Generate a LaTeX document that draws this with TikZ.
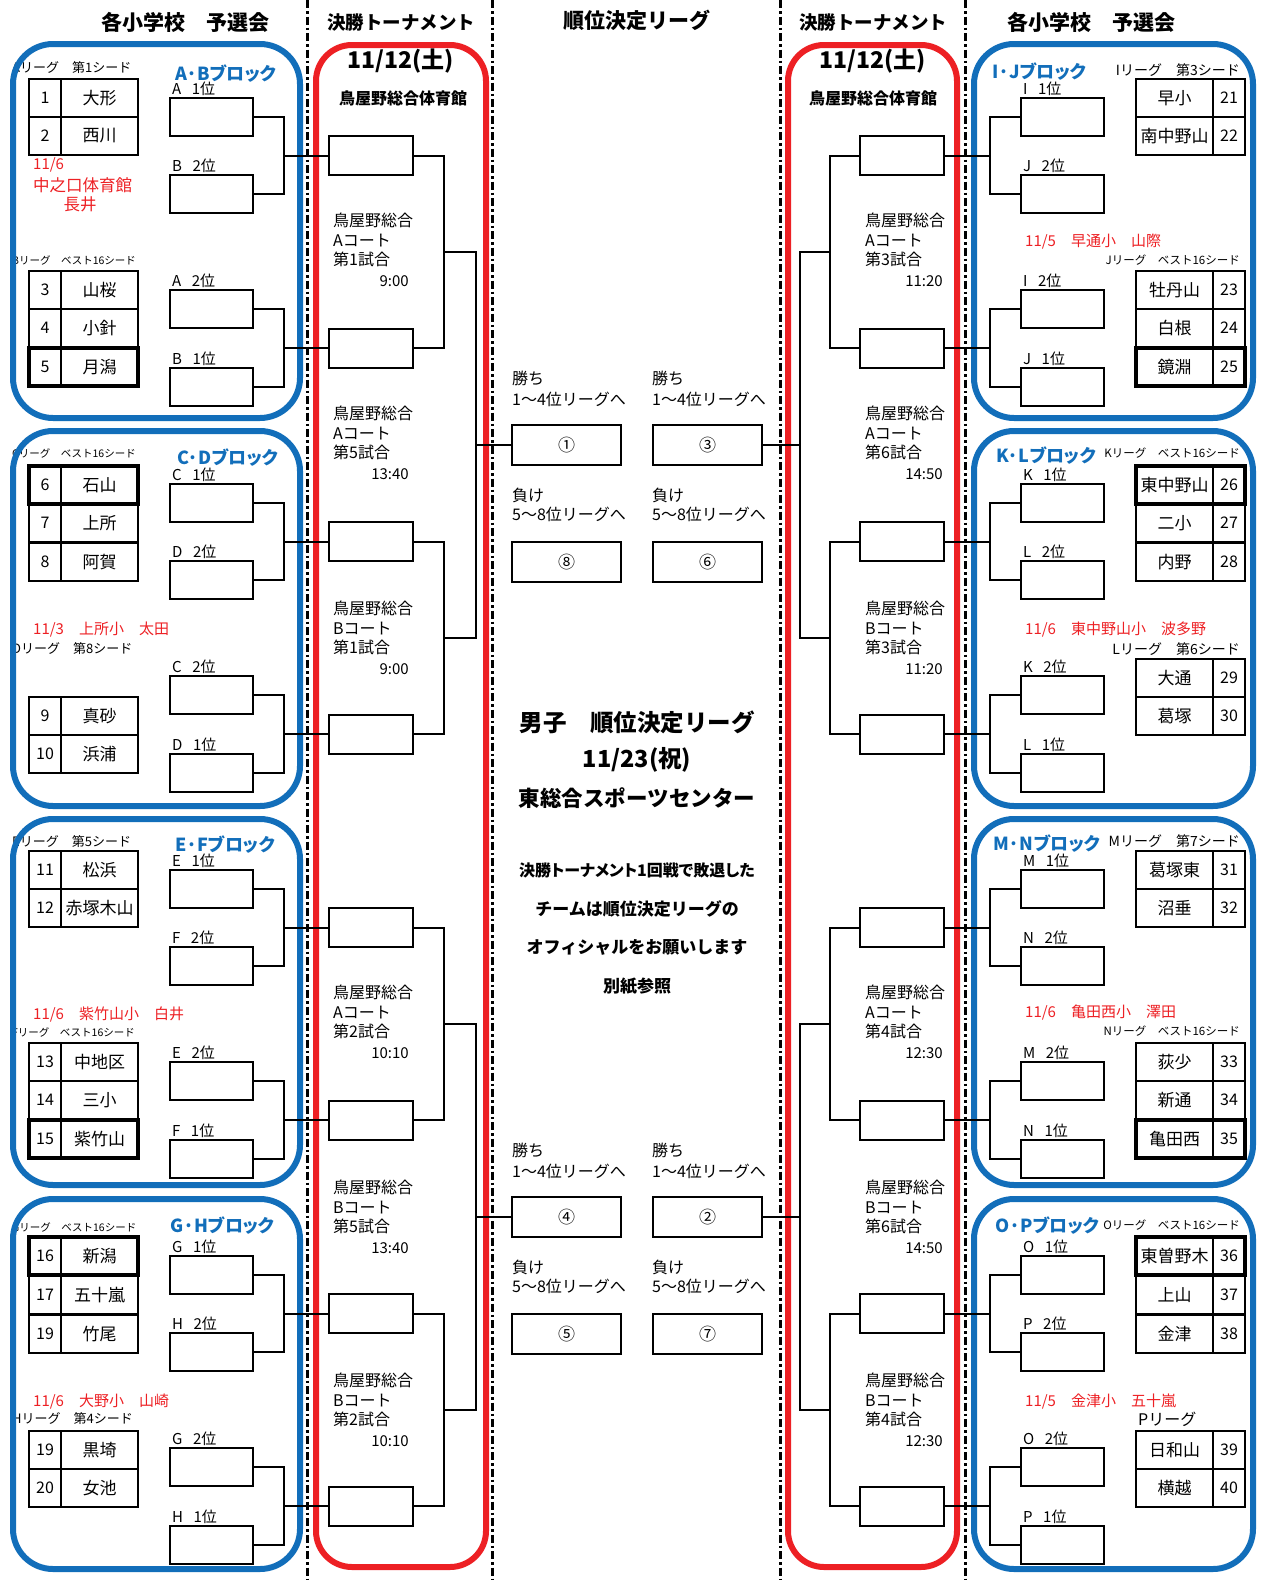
\documentclass[tikz,border=0pt]{standalone}
\usepackage{fontspec}
\setmainfont{Noto Sans CJK JP}
\usetikzlibrary{calc}
\definecolor{blkblue}{RGB}{18,110,186}
\definecolor{trnred}{RGB}{237,32,36}
\newcommand{\fsz}[1]{\fontsize{#1}{#1}\selectfont}

\begin{document}
\begin{tikzpicture}[x=1pt,y=-1pt,
  wire/.style={line width=2pt},
  vsep/.style={line width=3pt, dash pattern=on 8pt off 3pt on 2.5pt off 3pt},
  blkframe/.style={draw=blkblue, line width=6pt, rounded corners=40pt},
  trnframe/.style={draw=trnred, line width=6pt, rounded corners=36pt},
  seedbox/.style={draw, line width=2pt, minimum width=83pt, minimum height=38pt, inner sep=0pt},
  gamebox/.style={draw, line width=2pt, minimum width=84pt, minimum height=39pt, inner sep=0pt},
  rankbox/.style={draw, line width=2pt, minimum width=109pt, minimum height=40pt, inner sep=0pt, font=\fsz{17}},
  numcell/.style={draw, line width=2pt, minimum width=32pt, minimum height=38pt, inner sep=0pt, font=\fsz{16}},
  namecell/.style={draw, line width=2pt, minimum width=77pt, minimum height=38pt, inner sep=0pt, font=\fsz{17}},
  thickrow/.style={line width=4pt},
  seedlbl/.style={anchor=south west, inner sep=0pt, xshift=3pt, yshift=1pt, font=\fsz{15}},
  blocklbl/.style={anchor=west, inner sep=0pt, text=blkblue, font=\bfseries\fsz{18}\addfontfeature{RawFeature=+palt}},
  leaguelbl/.style={inner sep=0pt, font=\fsz{#1}},
  notelbl/.style={anchor=west, inner sep=0pt, text=trnred, font=\fsz{15}},
  courtlbl/.style={anchor=north west, align=left, inner sep=0pt, font=\fontsize{16}{19.5}\selectfont},
  timelbl/.style={anchor=east, inner sep=0pt, font=\fsz{15}},
  guidelbl/.style={anchor=west, inner sep=0pt, font=\fsz{16}},
  headlbl/.style={inner sep=0pt, font=\bfseries\fsz{#1}}]
\useasboundingbox (0,0) rectangle (1263,1580);

% dotted separators
\foreach \x in {307,492,780,965}
  \draw[vsep] (\x,0) -- (\x,1580);

% column headings
\node[headlbl=21] (hdL) at (185,22) {各小学校　予選会};
\node[headlbl=18.5] (hdTL) at (401,22) {決勝トーナメント};
\node[headlbl=21] (hdC) at (637,20) {順位決定リーグ};
\node[headlbl=18.5] (hdTR) at (873,22) {決勝トーナメント};
\node[headlbl=21] (hdR) at (1091,22) {各小学校　予選会};

% tournament frames
\draw[trnframe] (316,45) rectangle (486,1567);
\draw[trnframe] (788,45) rectangle (957,1567);
\node[headlbl=23] (dtL) at (401,61) {11/12(土)};
\node[headlbl=23] (dtR) at (873,61) {11/12(土)};
\node[headlbl=16] (hlL) at (403,98) {鳥屋野総合体育館};
\node[headlbl=16] (hlR) at (873,98) {鳥屋野総合体育館};

% league labels
\node[leaguelbl=13, anchor=west] (lgA) at (12,68) {Aリーグ　第1シード};
\node[leaguelbl=10.5, anchor=west] (lgB) at (12,260) {Bリーグ　ベスト16シード};
\node[leaguelbl=10.5, anchor=west] (lgC) at (12,453) {Cリーグ　ベスト16シード};
\node[leaguelbl=13, anchor=west] (lgD) at (12,649) {Dリーグ　第8シード};
\node[leaguelbl=13, anchor=west] (lgE) at (12,842) {Eリーグ　第5シード};
\node[leaguelbl=10.5, anchor=west] (lgF) at (12,1032) {Fリーグ　ベスト16シード};
\node[leaguelbl=10.5, anchor=west] (lgG) at (12,1227) {Gリーグ　ベスト16シード};
\node[leaguelbl=13, anchor=west] (lgH) at (12,1419) {Hリーグ　第4シード};
\node[leaguelbl=14, anchor=east] (lgI) at (1240,70) {Iリーグ　第3シード};
\node[leaguelbl=11.5, anchor=east] (lgJ) at (1240,260) {Jリーグ　ベスト16シード};
\node[leaguelbl=11.5, anchor=east] (lgK) at (1240,453) {Kリーグ　ベスト16シード};
\node[leaguelbl=14, anchor=east] (lgL) at (1240,649) {Lリーグ　第6シード};
\node[leaguelbl=14, anchor=east] (lgM) at (1240,841) {Mリーグ　第7シード};
\node[leaguelbl=11.5, anchor=east] (lgN) at (1240,1031) {Nリーグ　ベスト16シード};
\node[leaguelbl=11.5, anchor=east] (lgO) at (1240,1225) {Oリーグ　ベスト16シード};
\node[leaguelbl=16, anchor=west] (lgP) at (1138,1419) {Pリーグ};

% venue notes
\node[notelbl] (vnA1) at (33,165) {11/6};
\node[notelbl, font=\fsz{16.5}] (vnA2) at (33,185) {中之口体育館};
\node[notelbl, anchor=center, font=\fsz{16.5}] (vnA3) at (80,204) {長井};
\node[notelbl] (vnC) at (33,630) {11/3　上所小　太田};
\node[notelbl] (vnE) at (33,1014) {11/6　紫竹山小　白井};
\node[notelbl] (vnG) at (33,1402) {11/6　大野小　山崎};
\node[notelbl] (vnI) at (1025,242) {11/5　早通小　山際};
\node[notelbl] (vnK) at (1025,630) {11/6　東中野山小　波多野};
\node[notelbl] (vnM) at (1025,1013) {11/6　亀田西小　澤田};
\node[notelbl] (vnO) at (1025,1402) {11/5　金津小　五十嵐};

% team tables
\foreach \y/\no/\name [count=\i] in {79/1/大形,117/2/西川,271/3/山桜,309/4/小針,348/5/月潟,
    466/6/石山,504/7/上所,543/8/阿賀,697/9/真砂,735/10/浜浦,851/11/松浜,889/12/赤塚木山,
    1043/13/中地区,1081/14/三小,1120/15/紫竹山,1237/16/新潟,1276/17/五十嵐,1315/19/竹尾,
    1431/19/黒埼,1469/20/女池}{
  \node[numcell] (nL\i) at (45,\y+19) {\no};
  \node[namecell] (tL\i) at (99.5,\y+19) {\name};
}
\foreach \y/\no/\name [count=\i] in {79/21/早小,117/22/南中野山,271/23/牡丹山,309/24/白根,348/25/鏡淵,
    466/26/東中野山,504/27/二小,543/28/内野,659/29/大通,697/30/葛塚,851/31/葛塚東,889/32/沼垂,
    1043/33/荻少,1081/34/新通,1120/35/亀田西,1237/36/東曽野木,1276/37/上山,1315/38/金津,
    1431/39/日和山,1469/40/横越}{
  \node[namecell] (tR\i) at (1174.5,\y+19) {\name};
  \node[numcell] (nR\i) at (1229,\y+19) {\no};
}
\foreach \y in {348,466,1120,1237}{
  \draw[thickrow] (29,\y) rectangle ++(109,38);
  \draw[thickrow] (1136,\y) rectangle ++(109,38);
}

% left blocks
\foreach \k/\P/\Q/\ya/\yb/\bx/\by in {0/A/B/44/418/175/74,1/C/D/431/806/177/458,
    2/E/F/819/1185/175/845,3/G/H/1199/1569/170/1226}{
  \pgfmathsetmacro{\T}{44+386*\k}
  \draw[blkframe] (13,\ya) rectangle (300,\yb);
  \node[blocklbl] (bkL\k) at (\bx,\by) {\P·\Q ブロック};
  \node[seedbox] (sL\k a) at (211.5,\T+73) {};
  \node[seedbox] (sL\k b) at (211.5,\T+150) {};
  \node[seedbox] (sL\k c) at (211.5,\T+265) {};
  \node[seedbox] (sL\k d) at (211.5,\T+343) {};
  \node[seedlbl] (slL\k a) at (sL\k a.north west) {\P\hspace{0.7em}1位};
  \node[seedlbl] (slL\k b) at (sL\k b.north west) {\Q\hspace{0.7em}2位};
  \node[seedlbl] (slL\k c) at (sL\k c.north west) {\P\hspace{0.7em}2位};
  \node[seedlbl] (slL\k d) at (sL\k d.north west) {\Q\hspace{0.7em}1位};
  \coordinate (jL\k a) at (284,\T+111.5);
  \coordinate (jL\k b) at (284,\T+304);
  \node[gamebox] (gL\k a) at (371,\T+111.5) {};
  \node[gamebox] (gL\k b) at (371,\T+304) {};
  \draw[wire] (sL\k a.east) -| (jL\k a) |- (sL\k b.east);
  \draw[wire] (sL\k c.east) -| (jL\k b) |- (sL\k d.east);
  \draw[wire] (jL\k a) -- (gL\k a.west);
  \draw[wire] (jL\k b) -- (gL\k b.west);
  \coordinate (mL\k) at (444,\T+207.75);
  \draw[wire] (gL\k a.east) -| (mL\k) |- (gL\k b.east);
}

% right blocks
\foreach \k/\P/\Q/\ya/\yb/\bx/\by in {0/I/J/44/418/992/72,1/K/L/431/806/996/456,
    2/M/N/819/1185/993/844,3/O/P/1199/1569/995/1226}{
  \pgfmathsetmacro{\T}{44+386*\k}
  \draw[blkframe] (974,\ya) rectangle (1253,\yb);
  \node[blocklbl] (bkR\k) at (\bx,\by) {\P·\Q ブロック};
  \node[seedbox] (sR\k a) at (1062.5,\T+73) {};
  \node[seedbox] (sR\k b) at (1062.5,\T+150) {};
  \node[seedbox] (sR\k c) at (1062.5,\T+265) {};
  \node[seedbox] (sR\k d) at (1062.5,\T+343) {};
  \node[seedlbl] (slR\k a) at (sR\k a.north west) {\P\hspace{0.7em}1位};
  \node[seedlbl] (slR\k b) at (sR\k b.north west) {\Q\hspace{0.7em}2位};
  \node[seedlbl] (slR\k c) at (sR\k c.north west) {\P\hspace{0.7em}2位};
  \node[seedlbl] (slR\k d) at (sR\k d.north west) {\Q\hspace{0.7em}1位};
  \coordinate (jR\k a) at (990,\T+111.5);
  \coordinate (jR\k b) at (990,\T+304);
  \node[gamebox] (gR\k a) at (902,\T+111.5) {};
  \node[gamebox] (gR\k b) at (902,\T+304) {};
  \draw[wire] (sR\k a.west) -| (jR\k a) |- (sR\k b.west);
  \draw[wire] (sR\k c.west) -| (jR\k b) |- (sR\k d.west);
  \draw[wire] (jR\k a) -- (gR\k a.east);
  \draw[wire] (jR\k b) -- (gR\k b.east);
  \coordinate (mR\k) at (830,\T+207.75);
  \draw[wire] (gR\k a.west) -| (mR\k) |- (gR\k b.west);
}

% court and time of each game
\foreach \y/\crt/\gm/\tm [count=\i] in {223/A/1/9:00,416/A/5/13:40,611/B/1/9:00,
    995/A/2/10:10,1190/B/5/13:40,1383/B/2/10:10}{
  \node[courtlbl] (ctL\i) at (333,\y-10) {鳥屋野総合\\\crt{}コート\\第\gm{}試合};
  \node[timelbl] (tmL\i) at (409,\y+58.5) {\tm};
}
\foreach \y/\crt/\gm/\tm [count=\i] in {223/A/3/11:20,416/A/6/14:50,611/B/3/11:20,
    995/A/4/12:30,1190/B/6/14:50,1383/B/4/12:30}{
  \node[courtlbl] (ctR\i) at (865,\y-10) {鳥屋野総合\\\crt{}コート\\第\gm{}試合};
  \node[timelbl] (tmR\i) at (943,\y+58.5) {\tm};
}

% ranking league boxes
\foreach \yy/\wl/\ll/\wr/\lr [count=\i] in {0/①/⑧/③/⑥,772/④/⑤/②/⑦}{
  \node[guidelbl] (gwL\i) at (512,378+\yy) {勝ち};
  \node[guidelbl] (gwL\i b) at (512,399+\yy) {1〜4位リーグへ};
  \node[guidelbl] (glL\i) at (512,495+\yy) {負け};
  \node[guidelbl] (glL\i b) at (512,514+\yy) {5〜8位リーグへ};
  \node[guidelbl] (gwR\i) at (652,378+\yy) {勝ち};
  \node[guidelbl] (gwR\i b) at (652,399+\yy) {1〜4位リーグへ};
  \node[guidelbl] (glR\i) at (652,495+\yy) {負け};
  \node[guidelbl] (glR\i b) at (652,514+\yy) {5〜8位リーグへ};
  \node[rankbox] (wL\i) at (566.5,445+\yy) {\wl};
  \node[rankbox] (lL\i) at (566.5,562+\yy) {\ll};
  \node[rankbox] (wR\i) at (707.5,445+\yy) {\wr};
  \node[rankbox] (lR\i) at (707.5,562+\yy) {\lr};
  \coordinate (qL\i) at (476,445+\yy);
  \coordinate (qR\i) at (800,445+\yy);
  \draw[wire] (qL\i) -- (wL\i.west);
  \draw[wire] (qR\i) -- (wR\i.east);
}
\draw[wire] (mL0) -| (qL1) |- (mL1);
\draw[wire] (mL2) -| (qL2) |- (mL3);
\draw[wire] (mR0) -| (qR1) |- (mR1);
\draw[wire] (mR2) -| (qR2) |- (mR3);

% ranking league note
\node[headlbl=23.5] (ttl1) at (637,722) {男子　順位決定リーグ};
\node[headlbl=23.5] (ttl2) at (637,760) {11/23(祝)};
\node[headlbl=21.5] (ttl3) at (637,798) {東総合スポーツセンター};
\node[headlbl=16, font=\bfseries\fsz{16}\addfontfeature{RawFeature=+palt}] (nt1) at (637,870) {決勝トーナメント1回戦で敗退した};
\node[headlbl=17] (nt2) at (637,909) {チームは順位決定リーグの};
\node[headlbl=17] (nt3) at (637,947) {オフィシャルをお願いします};
\node[headlbl=17] (nt4) at (637,986) {別紙参照};
\end{tikzpicture}
\end{document}
